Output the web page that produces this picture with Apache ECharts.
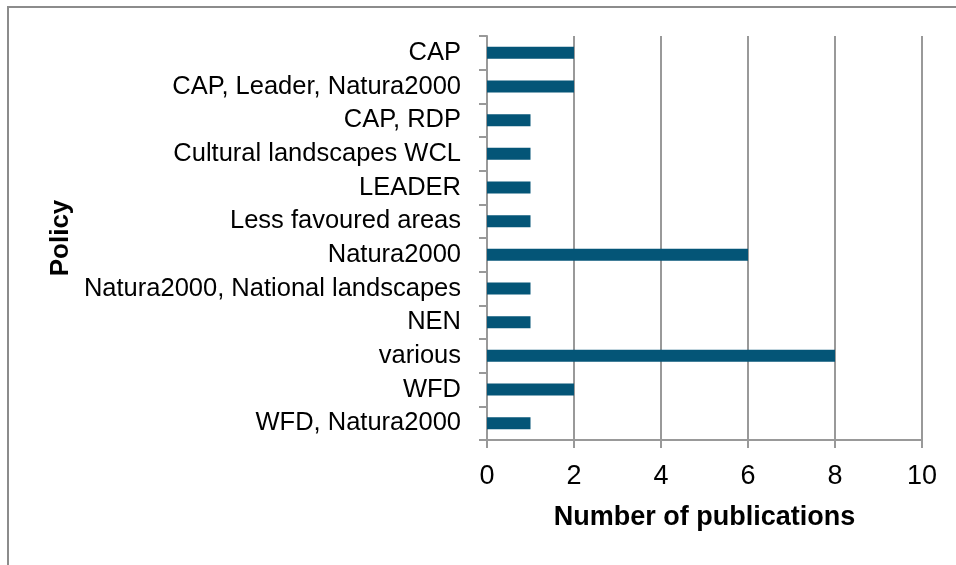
<!DOCTYPE html>
<html>
<head>
<meta charset="utf-8">
<script src="https://cdn.jsdelivr.net/npm/echarts@6/dist/echarts.min.js"></script>
<style>
  html, body { margin: 0; padding: 0; background: #fff; }
  #main { width: 956px; height: 565px; }
</style>
</head>
<body>
<div id="main"></div>
<script>
// policies, top to bottom as in the figure
const policies = [
  'CAP',
  'CAP, Leader, Natura2000',
  'CAP, RDP',
  'Cultural landscapes WCL',
  'LEADER',
  'Less favoured areas',
  'Natura2000',
  'Natura2000, National landscapes',
  'NEN',
  'various',
  'WFD',
  'WFD, Natura2000'
];
const publications = [2, 2, 1, 1, 1, 1, 6, 1, 1, 8, 2, 1];

const chart = echarts.init(document.getElementById('main'));

const labelFont = '"Liberation Sans Narrow", "Liberation Sans", Arial, sans-serif';
const axisGray = '#999999';

var option = {
  animation: false,
  backgroundColor: '#fff',
  graphic: [
    // outer frame (top and left edges visible)
    {
      type: 'polyline',
      shape: { points: [[8, 565], [8, 7], [956, 7]] },
      style: { stroke: '#8c8c8c', lineWidth: 2, fill: null }
    }
  ],
  grid: { left: 487, right: 34, top: 36, bottom: 125 },
  xAxis: {
    type: 'value',
    min: 0,
    max: 10,
    interval: 2,
    name: 'Number of publications',
    nameLocation: 'middle',
    nameGap: 64,
    nameTextStyle: {
      fontFamily: '"Liberation Sans", Arial, sans-serif',
      fontWeight: 'bold',
      fontSize: 27,
      color: '#000'
    },
    axisLine: { show: true, lineStyle: { color: axisGray, width: 2 } },
    axisTick: { show: true, length: 8, lineStyle: { color: axisGray, width: 2 } },
    axisLabel: {
      fontFamily: labelFont,
      fontSize: 27,
      color: '#000',
      margin: 23
    },
    splitLine: { show: true, lineStyle: { color: axisGray, width: 2 } }
  },
  yAxis: {
    type: 'category',
    data: policies,
    inverse: true,
    name: 'Policy',
    nameLocation: 'middle',
    nameGap: 413,
    nameRotate: 90,
    nameTextStyle: {
      fontFamily: '"Liberation Sans", Arial, sans-serif',
      fontWeight: 'bold',
      fontSize: 26,
      color: '#000'
    },
    axisLine: { show: true, lineStyle: { color: axisGray, width: 2 } },
    axisTick: { show: true, length: 8, lineStyle: { color: axisGray, width: 2 } },
    axisLabel: {
      interval: 0,
      fontFamily: labelFont,
      fontSize: 25.5,
      color: '#000',
      margin: 26
    },
    splitLine: { show: false }
  },
  series: [
    {
      type: 'bar',
      data: publications,
      barWidth: 12,
      itemStyle: { color: '#045577' }
    }
  ]
};

chart.setOption(option);
</script>
</body>
</html>
